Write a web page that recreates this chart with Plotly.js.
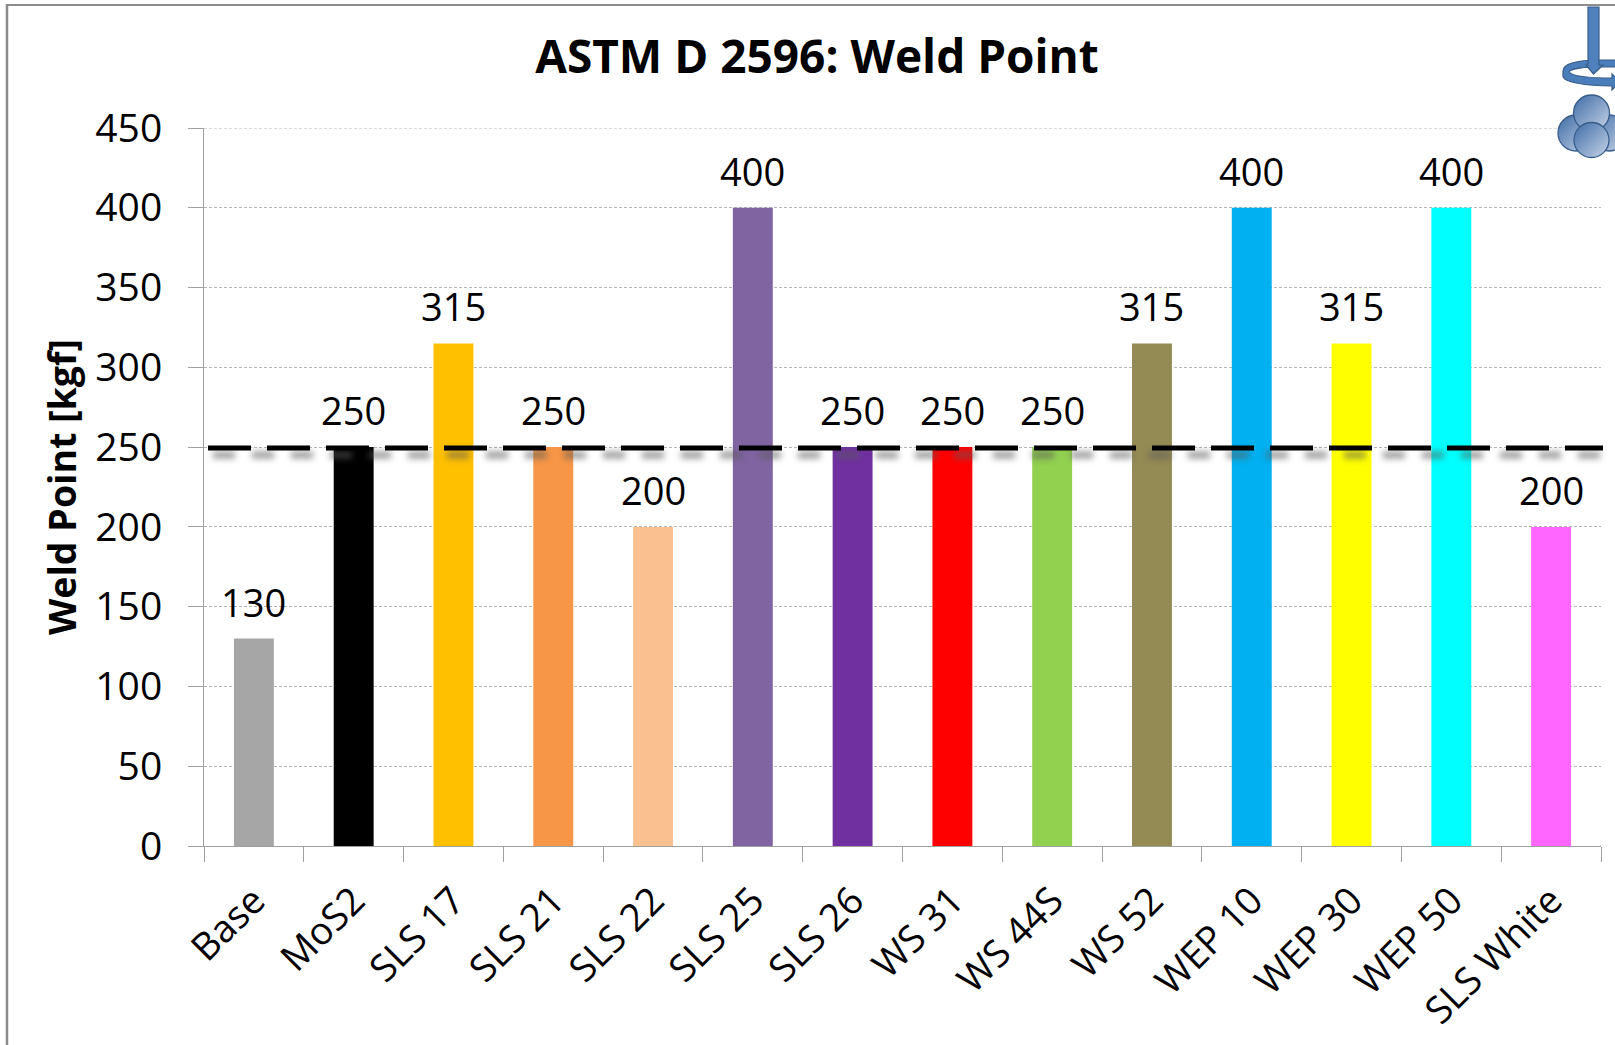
<!DOCTYPE html>
<html><head><meta charset="utf-8">
<script src="https://cdn.plot.ly/plotly-3.0.1.min.js"></script>
<style>html,body{margin:0;padding:0;background:#fff}#c{width:1615px;height:1045px}</style>
</head><body><div id="c"></div>
<script>
var categories=["Base","MoS2","SLS 17","SLS 21","SLS 22","SLS 25","SLS 26","WS 31","WS 44S","WS 52","WEP 10","WEP 30","WEP 50","SLS White"];
var weldPoint=[130,250,315,250,200,400,250,250,250,315,400,315,400,200];
var barColors=["#A6A6A6","#000000","#FFC000","#F79646","#FAC090","#8064A2","#7030A0","#FF0000","#92D050","#948A54","#00B0F0","#FFFF00","#00FFFF","#FF66FF"];
var yTicks=[0,50,100,150,200,250,300,350,400,450];
var reference=250;
var W=1615,H=1045,L=204,R=14,T=128,B=199,PW=W-L-R,PH=H-T-B;
function px(x){return (x-L)/PW;}
function py(y){return 1-(y-T)/PH;}
var FONT='"Open Sans", sans-serif';
var icon='<svg xmlns="http://www.w3.org/2000/svg" width="70" height="160" viewBox="1545 0 70 160">'+
'<defs><linearGradient id="g" x1="0" y1="0" x2="1" y2="1"><stop offset="0" stop-color="#3F6CA6"/><stop offset="1" stop-color="#C6D4E8"/></linearGradient></defs>'+
'<path d="M1563 71 C1563 63 1580 60 1600 60 L1620 60 L1620 67 L1600 67 C1582 67 1570 69 1569 72 C1572 76 1590 78 1612 78 L1612 74 L1620 82 L1612 90 L1612 86 C1585 86 1563 82 1563 76 Z" fill="#4A7EBB" stroke="#385D8A" stroke-width="1.2"/>'+
'<path d="M1588 7 L1599 7 L1599 65 L1603 65 L1593.5 74 L1586 65 L1588 65 Z" fill="#4F81BD" stroke="#385D8A" stroke-width="1.2"/>'+
'<circle cx="1576" cy="133" r="18" fill="url(#g)" stroke="#385D8A" stroke-width="1.3"/>'+
'<circle cx="1609" cy="133" r="18" fill="url(#g)" stroke="#385D8A" stroke-width="1.3"/>'+
'<circle cx="1591.5" cy="113" r="18" fill="url(#g)" stroke="#385D8A" stroke-width="1.3"/>'+
'<circle cx="1591.5" cy="140" r="17.5" fill="url(#g)" stroke="#385D8A" stroke-width="1.3"/></svg>';
var shadowOffset=5;
var shapes=[
 {type:'line',xref:'paper',yref:'y',x0:0,x1:1,y0:450,y1:450,line:{color:'#B5B5B5',width:1,dash:'3px 2px'},layer:'below'},
 {type:'line',xref:'paper',yref:'y',x0:px(213),x1:px(1603),y0:reference-shadowOffset,y1:reference-shadowOffset,line:{color:'rgba(90,90,90,0.6)',width:7,dash:'22px 17px'},layer:'above'},
 {type:'line',xref:'paper',yref:'y',x0:px(208),x1:px(1603),y0:reference-0.5,y1:reference-0.5,line:{color:'#000',width:5,dash:'43px 16px'},layer:'above'},
 {type:'line',xref:'paper',yref:'paper',x0:px(7),x1:px(7),y0:py(4),y1:py(1045),line:{color:'#8C8C8C',width:2.5}},
 {type:'line',xref:'paper',yref:'paper',x0:px(6),x1:px(1615),y0:py(5),y1:py(5),line:{color:'#8C8C8C',width:2}}
];
var annotations=categories.map(function(c,i){return {x:c,y:weldPoint[i],text:String(weldPoint[i]),showarrow:false,xanchor:'center',yanchor:'bottom',yshift:9,font:{family:FONT,size:38,color:'#000'}};});
Plotly.newPlot('c',[{type:'bar',x:categories,y:weldPoint,marker:{color:barColors,line:{width:0}},hoverinfo:'x+y',cliponaxis:false}],{
 width:W,height:H,margin:{l:L,r:R,t:T,b:B,pad:0},paper_bgcolor:'#fff',plot_bgcolor:'#fff',showlegend:false,bargap:0.6,
 title:{text:'<b>ASTM D 2596: Weld Point</b>',font:{family:FONT,size:46,color:'#000'},x:817/W,xanchor:'center',xref:'container',y:1-57/H,yanchor:'middle'},
 xaxis:{type:'category',categoryorder:'array',categoryarray:categories,range:[-0.5,13.5],tickson:'boundaries',ticks:'outside',ticklen:15,tickcolor:'#A0A0A0',tickwidth:1,showgrid:false,showline:true,linecolor:'#A0A0A0',linewidth:1,tickangle:-45,tickfont:{family:FONT,size:38,color:'#000'},ticklabelstandoff:16,automargin:false,zeroline:false},
 yaxis:{range:[0,450],tickvals:yTicks,ticktext:yTicks.map(String),ticks:'outside',ticklen:15,tickcolor:'#A0A0A0',tickwidth:1,showline:true,linecolor:'#A0A0A0',linewidth:1,showgrid:true,gridcolor:'#B5B5B5',griddash:'3px 2px',gridwidth:1,zeroline:false,tickfont:{family:FONT,size:39,color:'#000'},ticklabelstandoff:18,automargin:false,
  title:{text:'<b>Weld Point [kgf]</b>',font:{family:FONT,size:37.5,color:'#000'},standoff:7}},
 shapes:shapes,annotations:annotations,
 images:[{source:'data:image/svg+xml,'+encodeURIComponent(icon),xref:'paper',yref:'paper',x:px(1545),y:py(0),sizex:70/PW,sizey:160/PH,xanchor:'left',yanchor:'top',sizing:'stretch',layer:'above'}]
},{staticPlot:true,displayModeBar:false}).then(function(){
 document.querySelectorAll('.layer-above path, .shapelayer path').forEach(function(p){
  var d=p.style.strokeDasharray||p.getAttribute('stroke-dasharray')||'';
  if(d.indexOf('22')===0){p.style.filter='blur(3px)';}
 });
});
</script></body></html>
